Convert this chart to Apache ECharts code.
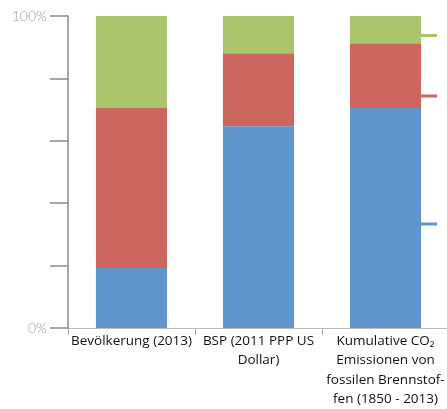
<!DOCTYPE html>
<html>
<head>
<meta charset="utf-8">
<script src="https://cdn.jsdelivr.net/npm/echarts@6/dist/echarts.min.js"></script>
<style>
html,body{margin:0;padding:0;background:#fff;}
#c{width:447px;height:409px;}
</style>
</head>
<body>
<div id="c"></div>
<script>
var categories = ['Bevölkerung (2013)', 'BSP (2011 PPP US\nDollar)', 'Kumulative CO₂\nEmissionen von\nfossilen Brennstof-\nfen (1850 - 2013)'];
var seriesNames = ['Hohes Einkommen', 'Mittleres Einkommen', 'Niedriges Einkommen'];
var blueValues = [19.2, 64.7, 70.5];
var redValues = [51.3, 23.4, 20.8];
var greenValues = [29.5, 11.9, 8.7];
var yTickLabels = {0: '0%', 100: '100%'};

var chart = echarts.init(document.getElementById('c'));
var colors = ['#6096cd', '#cd665f', '#a9c56c'];
function mkLegend(name, top) {
  return {
    data: [name], left: 420, top: top, icon: 'rect', itemWidth: 17, itemHeight: 3,
    formatter: function () { return ''; }, itemGap: 0, padding: 0, selectedMode: false,
    textStyle: {fontSize: 1}
  };
}
chart.setOption({
  animation: false,
  color: colors,
  legend: [mkLegend(seriesNames[2], 34), mkLegend(seriesNames[1], 94.5), mkLegend(seriesNames[0], 222.5)],
  grid: {left: 68, right: -2, top: 16, bottom: 81, containLabel: false, outerBoundsMode: 'none'},
  xAxis: {
    type: 'category', data: categories,
    axisLine: {lineStyle: {color: '#bdbdbd', width: 1}},
    axisTick: {show: true, length: 7, lineStyle: {color: '#a8a8a8'}},
    axisLabel: {interval: 0, margin: 3, lineHeight: 19.5, fontSize: 13.5, color: '#111', fontFamily: 'Open Sans'}
  },
  yAxis: {
    type: 'value', min: 0, max: 100, interval: 20,
    splitLine: {show: false},
    axisLine: {show: true, lineStyle: {color: '#8a8a8a', width: 1.5}},
    axisTick: {show: true, length: 18, lineStyle: {color: '#8a8a8a', width: 1.5}},
    axisLabel: {
      margin: 21, fontSize: 14, color: '#9a9a9a', fontFamily: 'Lato', fontWeight: 300,
      formatter: function (v) { return yTickLabels[v] || ''; }
    }
  },
  series: [
    {name: seriesNames[0], type: 'bar', stack: 's', data: blueValues, barWidth: '56%'},
    {name: seriesNames[1], type: 'bar', stack: 's', data: redValues, barWidth: '56%'},
    {name: seriesNames[2], type: 'bar', stack: 's', data: greenValues, barWidth: '56%'}
  ]
});
</script>
</body>
</html>
